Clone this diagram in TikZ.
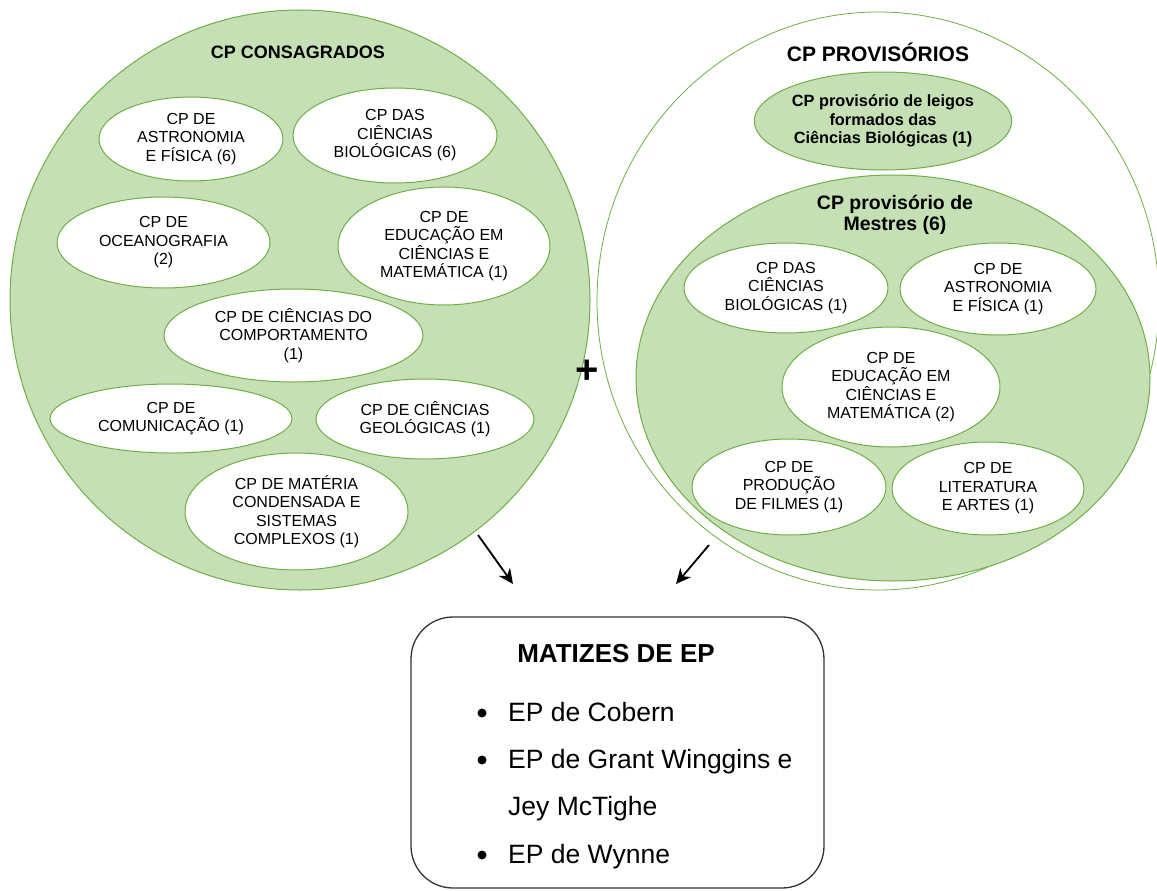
\documentclass[tikz,border=0pt]{standalone}
\usepackage{fontspec}
\setmainfont{Liberation Sans}
\usetikzlibrary{shapes.geometric,arrows.meta}
\definecolor{gfill}{HTML}{C5E0B4}
\definecolor{gline}{HTML}{70AD47}
\definecolor{boxline}{HTML}{333333}
\begin{document}
\begin{tikzpicture}[x=1pt,y=-1pt,
  bigc/.style={ellipse, draw=gline, fill=gfill, line width=1pt, inner sep=0pt},
  cpel/.style={ellipse, draw=gline, fill=white, line width=1pt, inner sep=0pt, align=center,
    font=\fontsize{16}{18.5}\selectfont},
  arr/.style={line width=1.8pt, -{Stealth[length=15pt,width=14pt]}},
  listtxt/.style={anchor=base west, inner sep=0pt, font=\fontsize{26.5}{30}\selectfont},
  bul/.style={circle, fill=black, inner sep=0pt, minimum size=9pt}
]
\useasboundingbox (0,0) rectangle (1157,891);

% ---------- left: consagrados ----------
\node[bigc, minimum width=580pt, minimum height=580pt] (cons) at (300,300) {};
\node[font=\bfseries\fontsize{18}{20}\selectfont] (consT) at (298,52) {CP CONSAGRADOS};
\node[cpel, minimum width=184pt, minimum height=84pt] (e1) at (191,139) {CP DE\\ASTRONOMIA\\E FÍSICA (6)};
\node[cpel, minimum width=204pt, minimum height=95pt] (e2) at (395,135.5) {CP DAS\\CIÊNCIAS\\BIOLÓGICAS (6)};
\node[cpel, minimum width=213pt, minimum height=91pt] (e3) at (163.5,242.5) {CP DE\\OCEANOGRAFIA\\(2)};
\node[cpel, minimum width=212pt, minimum height=118pt] (e4) at (444,246) {CP DE\\EDUCAÇÃO EM\\CIÊNCIAS E\\MATEMÁTICA (1)};
\node[cpel, minimum width=259pt, minimum height=93pt] (e5) at (293.5,335.5) {CP DE CIÊNCIAS DO\\COMPORTAMENTO\\(1)};
\node[cpel, minimum width=242pt, minimum height=69pt] (e6) at (171,418.5) {CP DE\\COMUNICAÇÃO (1)};
\node[cpel, minimum width=218pt, minimum height=80pt] (e7) at (425,419) {CP DE CIÊNCIAS\\GEOLÓGICAS (1)};
\node[cpel, minimum width=223pt, minimum height=117pt] (e8) at (296.5,511.5) {CP DE MATÉRIA\\CONDENSADA E\\SISTEMAS\\COMPLEXOS (1)};

% ---------- right: provisorios ----------
\node[ellipse, draw=gline, fill=white, line width=0.8pt, inner sep=0pt, minimum width=562pt, minimum height=578pt] (prov) at (878,301) {};
\node[font=\bfseries\fontsize{21}{24}\selectfont] (provT) at (878,52) {CP PROVISÓRIOS};
\node[bigc, minimum width=252pt, minimum height=98pt, align=center,
  font=\bfseries\fontsize{16.3}{18.5}\selectfont] (leigos) at (883,121) {CP provisório de leigos\\formados das\\Ciências Biológicas (1)};
\node[bigc, minimum width=514pt, minimum height=406pt] (mest) at (893,378) {};
\node[align=center, font=\bfseries\fontsize{19.5}{21}\selectfont] (mestT) at (895,215) {CP provisório de\\Mestres (6)};
\node[cpel, minimum width=204pt, minimum height=90pt] (r1) at (786,288) {CP DAS\\CIÊNCIAS\\BIOLÓGICAS (1)};
\node[cpel, minimum width=196pt, minimum height=92pt] (r2) at (998,289) {CP DE\\ASTRONOMIA\\E FÍSICA (1)};
\node[cpel, minimum width=218pt, minimum height=120pt] (r3) at (891,387) {CP DE\\EDUCAÇÃO EM\\CIÊNCIAS E\\MATEMÁTICA (2)};
\node[cpel, minimum width=194pt, minimum height=96pt] (r4) at (789,487) {CP DE\\PRODUÇÃO\\DE FILMES (1)};
\node[cpel, minimum width=192pt, minimum height=93pt] (r5) at (988,488.5) {CP DE\\LITERATURA\\E ARTES (1)};

% plus sign
\node[font=\bfseries\fontsize{40}{40}\selectfont, inner sep=0pt] (plus) at (587,372) {+};

% arrows
\coordinate (a1s) at (478,535);
\coordinate (a1e) at (513,584);
\coordinate (a2s) at (709,545);
\coordinate (a2e) at (676,584);
\draw[arr] (a1s) -- (a1e);
\draw[arr] (a2s) -- (a2e);

% ---------- box ----------
\node[draw=boxline, line width=1.3pt, rounded corners=42pt, minimum width=413pt, minimum height=271pt] (box) at (617.5,752.5) {};
\node[anchor=base, inner sep=0pt, font=\bfseries\fontsize{26}{30}\selectfont] (boxT) at (616,662) {MATIZES DE EP};
\node[bul] (b1) at (482,713) {};
\node[listtxt] (l1) at (508,721) {EP de Cobern};
\node[bul] (b2) at (482,760) {};
\node[listtxt] (l2) at (508,768) {EP de Grant Winggins e};
\node[listtxt] (l3) at (508,815) {Jey McTighe};
\node[bul] (b3) at (482,855) {};
\node[listtxt] (l4) at (508,863) {EP de Wynne};
\end{tikzpicture}
\end{document}
